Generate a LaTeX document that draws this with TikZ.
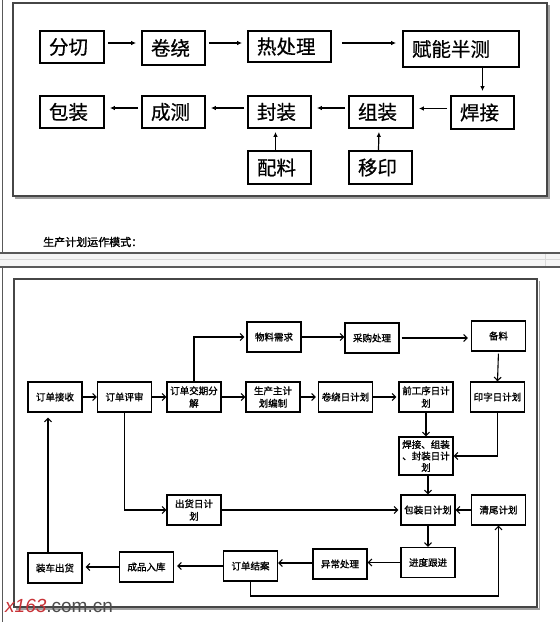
\documentclass[tikz,border=0pt]{standalone}
\usepackage{fontspec}
\newfontfamily\cjk[FakeBold=0.6]{Noto Sans CJK SC}
\newfontfamily\cjkb[FakeBold=1.3]{Noto Sans CJK SC}
\newfontfamily\wmfont{Liberation Sans}
\usetikzlibrary{arrows.meta,calc}
\definecolor{wmred}{RGB}{200,50,55}
\definecolor{framegray}{RGB}{70,70,70}
\definecolor{shadowgray}{RGB}{160,160,160}
\begin{document}
\begin{tikzpicture}[x=1pt,y=-1pt,
  tb/.style={draw=black, line width=1.8pt, inner xsep=9pt, inner ysep=0pt,
    font=\cjk\fontsize{19.5}{21}\selectfont, align=left},
  bb/.style={draw=black, line width=1.3pt, inner sep=1pt,
    font=\cjkb\fontsize{9.5}{12.5}\selectfont, align=center,
    minimum width=54pt, minimum height=30pt},
  ta/.style={-{Latex[length=5pt,width=4.5pt]}, line width=1.2pt},
  ba/.style={-{Straight Barb[length=3.5pt,width=7pt]}, line width=1.1pt},
  chrome/.style={draw=black!65, line width=1.1pt}
]
\useasboundingbox (0,0) rectangle (560,622);
\fill[white] (0,0) rectangle (560,622);

% ---------- page chrome ----------
\fill[black!4] (0,253.5) rectangle (560,266.5);
\draw[black!15, line width=0.6pt] (0,259) -- (560,259);
\draw[black!15, line width=0.6pt] (545,253) -- (545,267);
\draw[chrome] (2.5,0) -- (2.5,253);
\draw[chrome] (0,253) -- (560,253);
\draw[chrome] (0,267) -- (560,267);
\draw[chrome] (2.5,267) -- (2.5,622);

% ---------- top frame ----------
\draw[shadowgray, line width=1.6pt] (548.8,5) -- (548.8,197.8) -- (15,197.8);
\draw[framegray, line width=1.5pt] (13,3) rectangle (547,196);

% ---------- top nodes ----------
\node[tb, text width=46pt, minimum height=32pt] (fq)  at (72,47)    {分切};
\node[tb, text width=45pt, minimum height=34pt] (jr)  at (173.5,48) {卷绕};
\node[tb, text width=65pt, minimum height=31pt] (rcl) at (289.5,46.5) {热处理};
\node[tb, text width=98pt, minimum height=36pt] (fn)  at (461,49)   {赋能半测};
\node[tb, text width=45pt, minimum height=33pt] (hj)  at (482.5,112.5) {焊接};
\node[tb, text width=46pt, minimum height=32pt] (zz)  at (381,112)  {组装};
\node[tb, text width=45pt, minimum height=32pt] (fz)  at (279.5,112) {封装};
\node[tb, text width=45pt, minimum height=32pt] (cc)  at (173.5,112) {成测};
\node[tb, text width=46pt, minimum height=32pt] (bz)  at (72,112)   {包装};
\node[tb, text width=45pt, minimum height=33pt] (pl)  at (279.5,167.5) {配料};
\node[tb, text width=45pt, minimum height=33pt] (yy)  at (380.5,167.5) {移印};

% ---------- top connectors ----------
\draw[ta, shorten <=3pt, shorten >=5pt] ([yshift=4pt]fq.east) -- ([yshift=4pt]fq.east -| jr.west);
\draw[ta, shorten <=3pt, shorten >=5pt] ([yshift=4pt]fq.east -| jr.east) -- ([yshift=4pt]fq.east -| rcl.west);
\draw[ta, shorten <=10pt, shorten >=6pt] ([yshift=4pt]fq.east -| rcl.east) -- ([yshift=4pt]fq.east -| fn.west);
\draw[ta, shorten >=4pt] (fn.south -| hj.north) -- (hj.north);
\draw[ta, shorten <=3pt, shorten >=5pt] ([yshift=4pt]hj.west) -- ([yshift=4pt]hj.west -| zz.east);
\draw[ta, shorten <=3pt, shorten >=5pt] ([yshift=4pt]zz.west) -- ([yshift=4pt]zz.west -| fz.east);
\draw[ta, shorten <=3pt, shorten >=5pt] ([yshift=4pt]fz.west) -- ([yshift=4pt]fz.west -| cc.east);
\draw[ta, shorten <=3pt, shorten >=5pt] ([yshift=4pt]cc.west) -- ([yshift=4pt]cc.west -| bz.east);
\draw[ta, shorten >=3pt] ([xshift=-4pt]pl.north) -- ([xshift=-4pt]fz.south);
\draw[ta, shorten >=3pt] ([xshift=-2pt]yy.north) -- ([xshift=-2pt]zz.south);

% ---------- caption ----------
\node[anchor=west, inner sep=0, font=\cjkb\fontsize{11}{12}\selectfont] (cap) at (43,242) {生产计划运作模式：};

% ---------- bottom frame ----------
\draw[shadowgray, line width=1.6pt] (539.5,281) -- (539.5,609) -- (16,609);
\draw[framegray, line width=1.5pt] (14,279) rectangle (537,607);

% ---------- bottom nodes ----------
\node[bb] (jsh) at (55,397)    {订单接收};
\node[bb] (psh) at (124.5,397) {订单评审};
\node[bb] (jq)  at (194,397)   {订单交期分\\解};
\node[bb] (wl)  at (274,337)   {物料需求};
\node[bb] (sc)  at (273,397)   {生产主计\\划编制};
\node[bb] (cg)  at (372,338)   {采购处理};
\node[bb] (bl)  at (498.5,336) {备料};
\node[bb] (jrr) at (345.5,397) {卷绕日计划};
\node[bb] (qgx) at (426,397)   {前工序日计\\划};
\node[bb] (yz)  at (497.5,397) {印字日计划};
\node[bb, minimum height=38pt, font=\cjkb\fontsize{9.5}{11.5}\selectfont] (hjz) at (426,456) {焊接、组装\\、封装日计\\划};
\node[bb] (bzr) at (428,510)   {包装日计划};
\node[bb] (qw)  at (498.5,510) {清尾计划};
\node[bb] (jd)  at (428,562.5) {进度跟进};
\node[bb] (yc)  at (340,564)   {异常处理};
\node[bb] (ch)  at (194,510)   {出货日计\\划};
\node[bb] (zc)  at (55,568)    {装车出货};
\node[bb] (cp)  at (146.5,567) {成品入库};
\node[bb] (ja)  at (250.5,566) {订单结案};

\coordinate (lowturn) at (499,596);

% ---------- bottom connectors ----------
\draw[ba] (jsh.east) -- (psh.west);
\draw[ba] (psh.east) -- (jq.west);
\draw[ba, shorten >=2pt] (jq.north) |- (wl.west);
\draw[ba] (jq.east) -- (sc.west);
\draw[ba] (wl.east) -- (wl.east -| cg.west);
\draw[ba, shorten <=2pt, shorten >=3pt] (cg.east) -- (cg.east -| bl.west);
\draw[ba, shorten <=2pt] (bl.south) -- (yz.north);
\draw[ba, shorten >=2pt] (sc.east) -- (sc.east -| jrr.west);
\draw[ba, shorten >=2pt] (jrr.east) -- (jrr.east -| qgx.west);
\draw[ba] (qgx.south) -- (hjz.north);
\draw[ba] (yz.south) |- (hjz.east);
\draw[ba] (hjz.south -| bzr.north) -- (bzr.north);
\draw[ba] (psh.south) |- (ch.west);
\draw[ba, shorten >=2pt] (ch.east) -- (bzr.west);
\draw[ba] (qw.west) -- (bzr.east);
\draw[ba] (bzr.south) -- (jd.north);
\draw[ba] (jd.west) -- (jd.west -| yc.east);
\draw[ba] ([yshift=1pt]yc.west) -- ([yshift=1pt]yc.west -| ja.east);
\draw[ba, shorten >=3pt] (ja.west) -- (ja.west -| cp.east);
\draw[ba, shorten >=3pt] (cp.west) -- (cp.west -| zc.east);
\draw[ba, shorten >=5pt] ([xshift=-7pt]zc.north) -- ([xshift=-7pt]jsh.south);
\draw[ba] (ja.south) |- (qw.south |- lowturn) -- (qw.south);

% ---------- watermark ----------
\node[anchor=base west, inner sep=0, font=\wmfont\fontsize{19}{20}\selectfont] (wm) at (5,612)
  {\textcolor{wmred}{\itshape x163}\textcolor{black!70}{.com.cn}};
\end{tikzpicture}
\end{document}
